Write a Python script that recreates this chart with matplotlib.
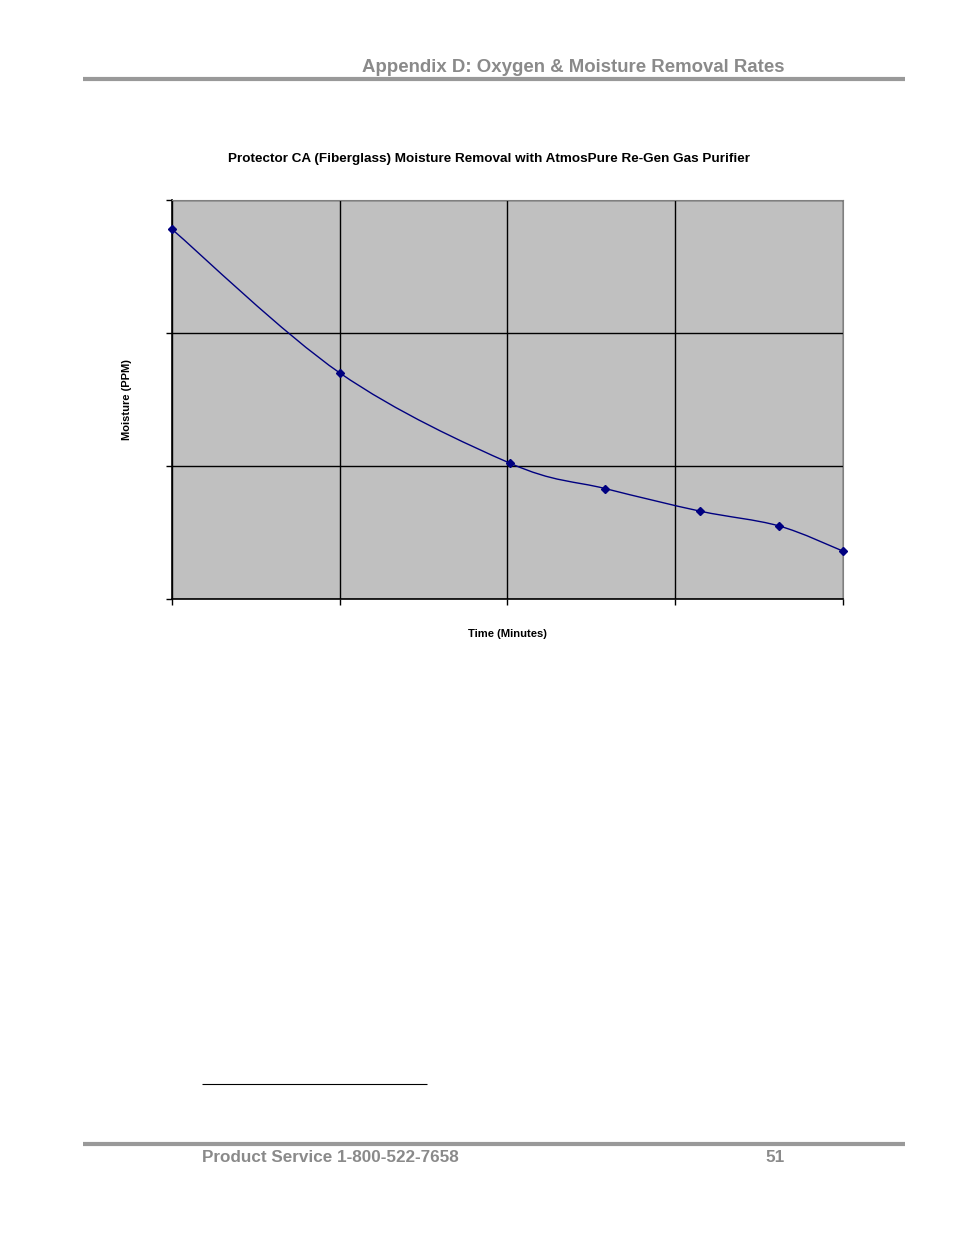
import numpy as np
import matplotlib.pyplot as plt
from matplotlib.path import Path
from matplotlib.patches import PathPatch

plt.rcParams['font.family'] = ['Liberation Sans', 'DejaVu Sans']

# Moisture removal readings (axis has no printed labels)
time_min = [0, 60, 121, 155, 189, 217, 240]
moisture_ppm = [27.8, 17.0, 10.2, 8.3, 6.6, 5.5, 3.6]
x_ticks = [0, 60, 120, 180, 240]
y_ticks = [0, 10, 20, 30]

title = 'Protector CA (Fiberglass) Moisture Removal with AtmosPure Re-Gen Gas Purifier'
navy = '#000080'


def smooth_path(xs, ys, t=1 / 6):
    # Excel-style smoothed line as cubic Bezier segments through the points
    pts = np.column_stack([xs, ys]).astype(float)
    verts = [pts[0]]
    codes = [Path.MOVETO]
    n = len(pts)
    for i in range(n - 1):
        p0 = pts[max(i - 1, 0)]
        p1 = pts[i]
        p2 = pts[i + 1]
        p3 = pts[min(i + 2, n - 1)]
        c1 = p1 + (p2 - p0) * t
        c2 = p2 - (p3 - p1) * t
        verts += [c1, c2, p2]
        codes += [Path.CURVE4] * 3
    return Path(verts, codes)


fig = plt.figure(figsize=(9.54, 12.35), dpi=100)

# page header / footer
fig.text(785 / 954, 1 - 67 / 1235, 'Appendix D: Oxygen & Moisture Removal Rates',
         ha='right', va='center', fontsize=13.4, fontweight='bold', color='#8a8a8a')
for y in [79, 1144]:
    fig.add_artist(plt.Line2D([83 / 954, 905 / 954], [1 - y / 1235] * 2,
                              color='#999999', lw=3, solid_capstyle='butt'))
fig.add_artist(plt.Line2D([202 / 954, 427 / 954], [1 - 1084 / 1235] * 2,
                          color='black', lw=0.8, solid_capstyle='butt'))
fig.text(202 / 954, 1 - 1157 / 1235, 'Product Service 1-800-522-7658',
         ha='left', va='center', fontsize=12.3, fontweight='bold', color='#8a8a8a')
fig.text(785 / 954, 1 - 1157 / 1235, '51',
         ha='right', va='center', fontsize=12.3, fontweight='bold', color='#8a8a8a')

ax = fig.add_axes([172 / 954, 1 - 599 / 1235, 671 / 954, 399 / 1235])
ax.set_facecolor('#c0c0c0')
ax.set_xlim(x_ticks[0], x_ticks[-1])
ax.set_ylim(y_ticks[0], y_ticks[-1])
ax.set_xticks(x_ticks)
ax.set_yticks(y_ticks)
ax.set_xticklabels([])
ax.set_yticklabels([])
ax.tick_params(direction='out', length=4, width=1, color='black')
ax.grid(True, color='black', lw=1)
ax.set_axisbelow(True)

for side in ['top', 'right']:
    ax.spines[side].set_color('#808080')
    ax.spines[side].set_linewidth(0.8)
for side in ['left', 'bottom']:
    ax.spines[side].set_color('black')
    ax.spines[side].set_linewidth(1.2)

ax.add_patch(PathPatch(smooth_path(time_min, moisture_ppm), fc='none', ec=navy, lw=1, clip_on=False))
ax.plot(time_min, moisture_ppm, ls='none', marker='D', ms=4, color=navy, clip_on=False, zorder=5)

fig.text(489 / 954, 1 - 159 / 1235, title, ha='center', va='center',
         fontsize=9.7, fontweight='bold')
fig.text(507 / 954, 1 - 634 / 1235, 'Time (Minutes)', ha='center', va='center',
         fontsize=8.1, fontweight='bold')
fig.text(127 / 954, 1 - 400 / 1235, 'Moisture (PPM)', ha='center', va='center',
         rotation=90, fontsize=8, fontweight='bold')

fig.savefig('out.png', dpi=100)
